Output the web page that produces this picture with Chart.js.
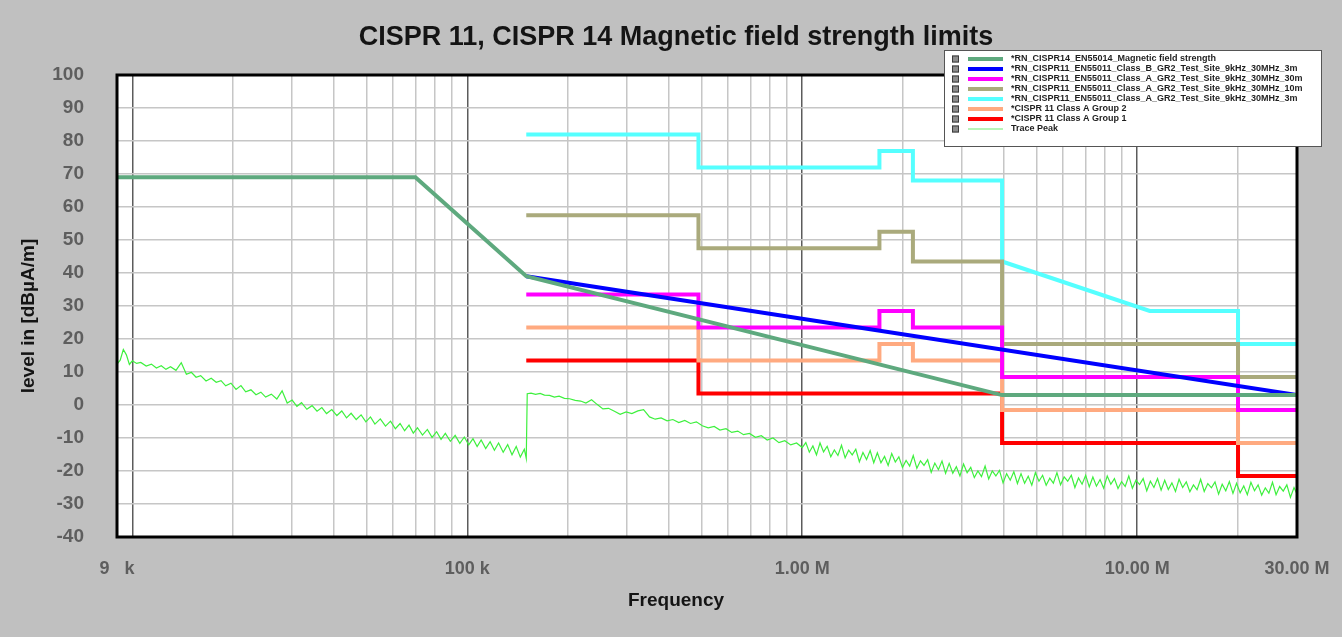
<!DOCTYPE html>
<html>
<head>
<meta charset="utf-8">
<title>CISPR 11, CISPR 14 Magnetic field strength limits</title>
<script src="https://cdn.jsdelivr.net/npm/chart.js@4.4.1/dist/chart.umd.min.js"></script>
<style>
  html, body { margin: 0; padding: 0; background: #c0c0c0; }
  canvas { display: block; }
</style>
</head>
<body>
<canvas id="limitsChart" width="1342" height="637"></canvas>
<script>
// limit lines, frequency in Hz, level in dBuA/m
var magFreq = [9e3, 70e3, 150e3, 3.95e6, 30e6];
var magLevel = [69, 69, 39, 3, 3];

var classBFreq = [150e3, 30e6];
var classBLevel = [39, 3];

var a30Freq = [150e3, 490e3, 490e3, 1.7e6, 1.7e6, 2.14e6, 2.14e6, 3.95e6, 3.95e6, 20e6, 20e6, 30e6];
var a30Level = [33.5, 33.5, 23.5, 23.5, 28.5, 28.5, 23.5, 23.5, 8.5, 8.5, -1.5, -1.5];

var a10Freq = [150e3, 490e3, 490e3, 1.7e6, 1.7e6, 2.14e6, 2.14e6, 3.95e6, 3.95e6, 20e6, 20e6, 30e6];
var a10Level = [57.5, 57.5, 47.5, 47.5, 52.5, 52.5, 43.5, 43.5, 18.5, 18.5, 8.5, 8.5];

var a3Freq = [150e3, 490e3, 490e3, 1.7e6, 1.7e6, 2.14e6, 2.14e6, 3.95e6, 3.95e6, 10.9e6, 20e6, 20e6, 30e6];
var a3Level = [82, 82, 72, 72, 77, 77, 68, 68, 43.5, 28.5, 28.5, 18.5, 18.5];

var grp2Freq = [150e3, 490e3, 490e3, 1.7e6, 1.7e6, 2.14e6, 2.14e6, 3.95e6, 3.95e6, 20e6, 20e6, 30e6];
var grp2Level = [23.5, 23.5, 13.5, 13.5, 18.5, 18.5, 13.5, 13.5, -1.5, -1.5, -11.5, -11.5];

var grp1Freq = [150e3, 490e3, 490e3, 3.95e6, 3.95e6, 20e6, 20e6, 30e6];
var grp1Level = [13.5, 13.5, 3.5, 3.5, -11.5, -11.5, -21.5, -21.5];

var traceFreqKHz = [
  9, 9.2, 9.4, 9.6, 9.8, 10, 10.3, 10.6, 11, 11.4, 11.8, 12.2, 12.6, 13, 13.5, 14, 14.5, 15, 15.5, 16,
  16.6, 17.2, 17.8, 18.4, 19, 19.7, 20.4, 21.1, 21.8, 22.6, 23.4, 24.2, 25, 26, 27, 28, 29, 30, 31, 32,
  33.2, 34.4, 35.6, 36.8, 38, 39.4, 40.8, 42.2, 43.6, 45, 46.6, 48.2, 49.8, 51.4, 53, 55, 57, 59, 61, 63,
  65, 67, 69, 71, 73.5, 76, 78.5, 81, 83.5, 86, 89, 92, 95, 98, 101, 104, 107, 110, 113.5, 117,
  120.5, 124, 128, 132, 136, 140, 144, 148, 150,
  151, 155, 160, 165, 170, 176, 182, 188, 195, 202, 210, 218, 226, 235, 244, 254, 264, 275, 286, 298,
  310, 323, 336, 350, 364, 379, 395, 411, 428, 446, 464, 483, 503, 524, 546, 568, 592, 616, 642, 668,
  696, 725, 755, 786, 818, 852, 887, 924, 962, 1000,
  1025, 1050, 1076, 1103, 1130, 1158, 1187, 1217, 1247, 1278,
  1310, 1343, 1376, 1410, 1445, 1481, 1518, 1556, 1595, 1635,
  1676, 1718, 1761, 1805, 1850, 1896, 1943, 1992, 2042, 2093,
  2145, 2199, 2254, 2310, 2368, 2427, 2488, 2550, 2614, 2679,
  2746, 2815, 2885, 2957, 3031, 3107, 3185, 3264, 3346, 3429,
  3515, 3603, 3693, 3785, 3880, 3977, 4076, 4178, 4283, 4390,
  4500, 4612, 4728, 4846, 4967, 5091, 5219, 5349, 5483, 5620,
  5760, 5904, 6052, 6203, 6358, 6517, 6680, 6847, 7018, 7194,
  7374, 7558, 7747, 7941, 8139, 8343, 8551, 8765, 8984, 9209,
  9439, 9675, 9917, 10165, 10419, 10680, 10947, 11220, 11501, 11788,
  12083, 12385, 12695, 13012, 13337, 13671, 14013, 14363, 14722, 15090,
  15467, 15854, 16250, 16657, 17073, 17500, 17937, 18386, 18845, 19317,
  19800, 20295, 20802, 21322, 21855, 22401, 22961, 23535, 24124, 24727,
  25345, 25979, 26628, 27294, 27976, 28676, 29393, 30000
];
var traceLevel = [
  12.4, 13.6, 16.8, 15.2, 12.3, 13.4, 12.6, 12.9, 11.8, 12.4, 11.2, 11.9, 10.8, 11.6, 10.5, 12.8, 9.3, 9.9, 8.4, 8.9,
  7.3, 8.1, 6.9, 7.4, 5.8, 6.6, 4.7, 5.9, 4.0, 4.6, 3.1, 3.9, 2.4, 3.3, 1.8, 4.3, 0.6, 1.5, -0.4, 0.7,
  -1.3, -0.2, -1.9, -0.8, -2.6, -1.4, -3.2, -1.8, -3.9, -2.5, -4.4, -3.0, -5.1, -3.6, -5.8, -4.2, -6.4, -4.9, -7.2, -5.6,
  -7.8, -6.1, -8.5, -6.9, -9.1, -7.4, -9.8, -8.1, -10.4, -8.6, -11.0, -9.2, -11.6, -9.7, -12.1, -10.2, -12.6, -10.6, -13.2, -11.1,
  -13.7, -11.5, -14.3, -12.0, -15.1, -12.6, -15.8, -13.4, -16.2,
  3.4, 3.6, 3.2, 3.5, 3.0, 2.9, 2.4, 2.7, 2.0, 1.9, 1.4, 1.2, 0.6, 1.6, 0.2, -1.2, -1.0, -1.9, -2.8, -2.1,
  -2.6, -1.8, -1.4, -3.6, -4.3, -3.9, -4.8, -4.4, -5.3, -4.7, -5.6, -5.1, -6.3, -6.9, -6.5, -7.6, -7.2, -8.3, -7.9, -9.0,
  -8.6, -9.8, -9.3, -10.6, -10.0, -11.4, -10.8, -12.1, -11.5, -12.9,
  -11.4, -14.3, -12.4, -15.1, -11.5, -14.2, -12.5, -15.7, -13.6, -15.3,
  -12.2, -16.0, -13.7, -15.1, -13.4, -17.2, -14.4, -16.5, -13.8, -17.5,
  -14.5, -17.5, -15.6, -18.3, -14.7, -17.3, -15.7, -18.9, -16.8, -18.5,
  -15.3, -19.2, -16.9, -18.3, -16.6, -20.4, -17.6, -19.6, -17.0, -20.7,
  -17.7, -20.7, -18.7, -21.5, -17.9, -20.5, -18.9, -22.0, -20.0, -21.7,
  -18.5, -22.4, -20.0, -21.5, -19.8, -23.6, -20.8, -22.8, -20.2, -23.8,
  -20.8, -23.7, -21.6, -24.3, -20.5, -23.1, -21.3, -24.3, -22.2, -23.7,
  -20.5, -24.2, -21.8, -23.1, -21.3, -25.0, -22.1, -24.0, -21.3, -24.8,
  -21.8, -24.6, -22.6, -25.2, -21.5, -24.0, -22.3, -25.3, -23.2, -24.7,
  -21.5, -25.2, -22.8, -24.1, -22.3, -26.0, -23.1, -25.0, -22.3, -25.8,
  -22.8, -25.6, -23.6, -26.2, -22.5, -25.0, -23.3, -26.3, -24.2, -25.7,
  -22.5, -26.2, -23.8, -25.1, -23.3, -27.0, -24.0, -26.0, -23.2, -26.8,
  -23.7, -26.6, -24.5, -27.2, -23.4, -26.0, -24.2, -27.3, -25.1, -26.7,
  -23.4, -27.2, -24.7, -26.1, -24.2, -28.0, -25.0, -27.0
];

// axis ticks
var gridFreqs = [9e3, 1e4, 2e4, 3e4, 4e4, 5e4, 6e4, 7e4, 8e4, 9e4,
  1e5, 2e5, 3e5, 4e5, 5e5, 6e5, 7e5, 8e5, 9e5,
  1e6, 2e6, 3e6, 4e6, 5e6, 6e6, 7e6, 8e6, 9e6,
  1e7, 2e7, 3e7];
var decadeFreqs = [1e4, 1e5, 1e6, 1e7];
var xTickValues = [9e3, 1e5, 1e6, 1e7, 3e7];
var xTickLabels = ["9   k", "100 k", "1.00 M", "10.00 M", "30.00 M"];

var seriesLabels = [
  "*RN_CISPR14_EN55014_Magnetic field strength",
  "*RN_CISPR11_EN55011_Class_B_GR2_Test_Site_9kHz_30MHz_3m",
  "*RN_CISPR11_EN55011_Class_A_GR2_Test_Site_9kHz_30MHz_30m",
  "*RN_CISPR11_EN55011_Class_A_GR2_Test_Site_9kHz_30MHz_10m",
  "*RN_CISPR11_EN55011_Class_A_GR2_Test_Site_9kHz_30MHz_3m",
  "*CISPR 11 Class A Group 2",
  "*CISPR 11 Class A Group 1",
  "Trace Peak"
];

var FONT = '"Liberation Sans", Arial, sans-serif';

function pts(freq, level, mult) {
  return freq.map(function (f, i) { return { x: f * (mult || 1), y: level[i] }; });
}

function limitSet(label, freq, level, color) {
  return {
    label: label,
    data: pts(freq, level),
    borderColor: color,
    borderWidth: 4,
    showLine: true,
    pointRadius: 0,
    fill: false,
    legendWidth: 4
  };
}

var datasets = [
  limitSet(seriesLabels[0], magFreq, magLevel, "#5ea97e"),
  limitSet(seriesLabels[1], classBFreq, classBLevel, "#0000ff"),
  limitSet(seriesLabels[2], a30Freq, a30Level, "#ff00ff"),
  limitSet(seriesLabels[3], a10Freq, a10Level, "#aaaa7c"),
  limitSet(seriesLabels[4], a3Freq, a3Level, "#55ffff"),
  limitSet(seriesLabels[5], grp2Freq, grp2Level, "#ffaa80"),
  limitSet(seriesLabels[6], grp1Freq, grp1Level, "#ff0000"),
  {
    label: seriesLabels[7],
    data: pts(traceFreqKHz, traceLevel, 1000),
    borderColor: "#3ef03e",
    borderWidth: 1.2,
    showLine: true,
    pointRadius: 0,
    fill: false,
    legendColor: "#b8f5b8",
    legendWidth: 2
  }
];

// background, frame, title, axis titles and the boxed legend
var decorPlugin = {
  id: "decor",
  beforeDraw: function (chart) {
    var ctx = chart.ctx, a = chart.chartArea;
    ctx.save();
    ctx.fillStyle = "#c0c0c0";
    ctx.fillRect(0, 0, chart.width, chart.height);
    ctx.fillStyle = "#ffffff";
    ctx.fillRect(a.left, a.top, a.right - a.left, a.bottom - a.top);
    ctx.restore();
  },
  afterDatasetsDraw: function (chart) {
    var ctx = chart.ctx, a = chart.chartArea;
    ctx.save();
    ctx.strokeStyle = "#000000";
    ctx.lineWidth = 3;
    ctx.strokeRect(a.left, a.top, a.right - a.left, a.bottom - a.top);
    ctx.restore();
  },
  afterDraw: function (chart) {
    var ctx = chart.ctx;
    ctx.save();
    ctx.fillStyle = "#141414";
    ctx.textAlign = "center";
    ctx.textBaseline = "middle";
    ctx.font = "bold 27px " + FONT;
    ctx.fillText("CISPR 11, CISPR 14 Magnetic field strength limits", 676, 38);

    ctx.font = "bold 19px " + FONT;
    ctx.fillText("Frequency", 676, 601);

    ctx.save();
    ctx.translate(29, 316);
    ctx.rotate(-Math.PI / 2);
    ctx.fillText("level in [dB\u00b5A/m]", 0, 0);
    ctx.restore();

    // legend box
    ctx.fillStyle = "#ffffff";
    ctx.fillRect(944, 50, 378, 97);
    ctx.strokeStyle = "#555555";
    ctx.lineWidth = 1;
    ctx.strokeRect(944.5, 50.5, 377, 96);

    ctx.textAlign = "left";
    ctx.font = "bold 9px " + FONT;
    chart.data.datasets.forEach(function (ds, i) {
      var y = 59 + i * 10;
      ctx.fillStyle = "#8c8c8c";
      ctx.fillRect(952, y - 3.5, 7, 7);
      ctx.strokeStyle = "#3a3a3a";
      ctx.lineWidth = 1;
      ctx.strokeRect(952.5, y - 3, 6, 6);

      ctx.strokeStyle = ds.legendColor || ds.borderColor;
      ctx.lineWidth = ds.legendWidth;
      ctx.beginPath();
      ctx.moveTo(968, y);
      ctx.lineTo(1003, y);
      ctx.stroke();

      ctx.fillStyle = "#1e1e1e";
      ctx.fillText(ds.label, 1011, y);
    });
    ctx.restore();
  }
};

var ctx = document.getElementById("limitsChart").getContext("2d");
new Chart(ctx, {
  type: "scatter",
  data: { datasets: datasets },
  options: {
    responsive: false,
    animation: false,
    devicePixelRatio: 1,
    layout: { padding: { top: 75, right: 45, bottom: 0, left: 0 } },
    plugins: {
      legend: { display: false },
      title: { display: false },
      tooltip: { enabled: false }
    },
    scales: {
      x: {
        type: "logarithmic",
        min: 9e3,
        max: 3e7,
        afterBuildTicks: function (scale) {
          scale.ticks = gridFreqs.map(function (v) { return { value: v }; });
        },
        afterFit: function (scale) {
          scale.height = 100;
          scale.paddingLeft = 0;
          scale.paddingRight = 0;
        },
        border: { display: false },
        grid: {
          drawTicks: false,
          lineWidth: 1.5,
          color: function (c) {
            return decadeFreqs.indexOf(c.tick.value) >= 0 ? "#5c5c5c" : "#c6c6c6";
          }
        },
        ticks: {
          autoSkip: false,
          maxRotation: 0,
          padding: 21,
          color: "#5e5e5e",
          font: { family: FONT, size: 18, weight: "bold" },
          callback: function (value) {
            var k = xTickValues.indexOf(value);
            return k >= 0 ? xTickLabels[k] : "";
          }
        }
      },
      y: {
        min: -40,
        max: 100,
        afterFit: function (scale) {
          scale.width = 117;
          scale.paddingTop = 0;
          scale.paddingBottom = 0;
        },
        border: { display: false },
        grid: { drawTicks: false, lineWidth: 1.5, color: "#c6c6c6" },
        ticks: {
          stepSize: 10,
          padding: 33,
          color: "#5e5e5e",
          font: { family: FONT, size: 19, weight: "bold" }
        }
      }
    }
  },
  plugins: [decorPlugin]
});
</script>
</body>
</html>
